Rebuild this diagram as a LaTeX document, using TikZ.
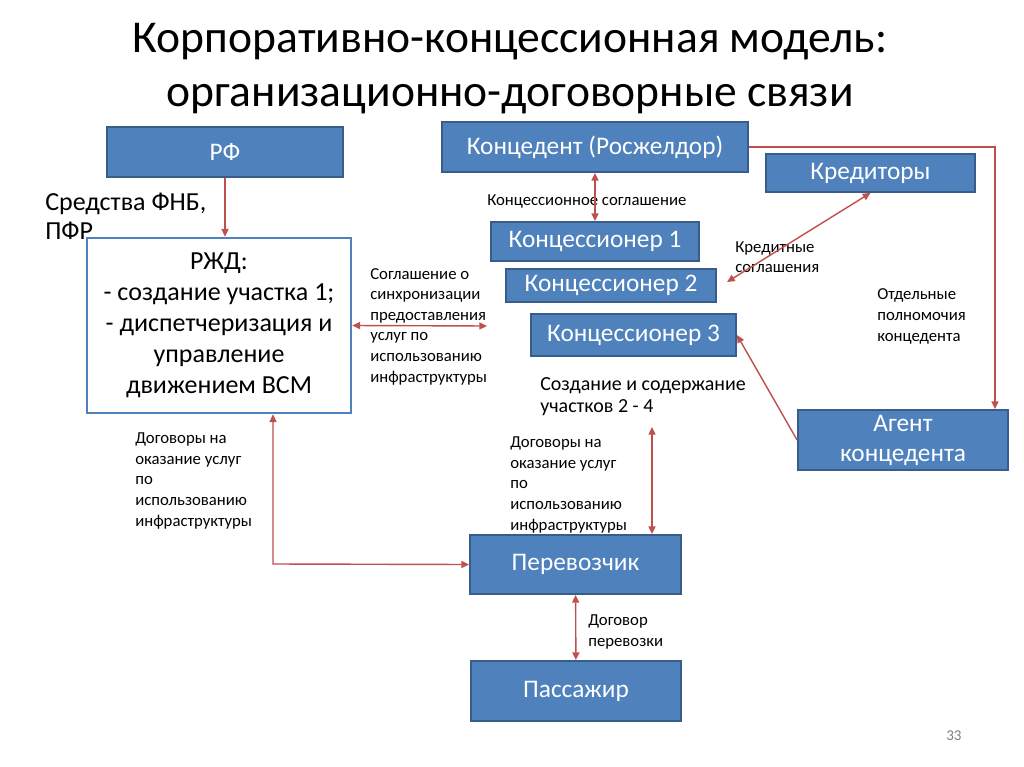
\documentclass[tikz,border=0pt]{standalone}
\usepackage{fontspec}
\setmainfont{Carlito}
\usetikzlibrary{arrows.meta}
\definecolor{boxblue}{RGB}{79,129,189}
\definecolor{boxedge}{RGB}{56,93,138}
\definecolor{linkred}{RGB}{190,80,77}
\tikzset{
  bluebox/.style={draw=boxedge, fill=boxblue, line width=1.3pt, text=white, align=center,
    inner sep=0pt, font=\fontsize{18}{21.3}\selectfont},
  whitebox/.style={draw=boxblue, line width=1.8pt, align=center, inner sep=0pt,
    font=\fontsize{18.5}{22}\selectfont},
  note/.style={anchor=base west, inner sep=0pt, align=left, font=\fontsize{11.9}{14.6}\selectfont},
  bignote/.style={note, font=\fontsize{18.5}{21.3}\selectfont},
  link/.style={linkred, line width=1pt, -{Triangle[length=5.5pt,width=5pt]}},
  twolink/.style={link, {Triangle[length=5.5pt,width=5pt]}-{Triangle[length=5.5pt,width=5pt]}},
}
\begin{document}
\begin{tikzpicture}[x=0.025cm, y=-0.025cm]
\useasboundingbox (0,0) rectangle (1024,767);
% title (base = last line)
\node[anchor=base, inner sep=0pt, align=center, font=\fontsize{32.4}{39}\selectfont] (title) at (510,107)
  {Корпоративно-концессионная модель:\\организационно-договорные связи};
% boxes
\node[bluebox, minimum width=5.9cm, minimum height=1.25cm] (rf) at (225,152) {РФ};
\node[bluebox, minimum width=7.65cm, minimum height=1.25cm] (kd) at (595,147) {Концедент (Росжелдор)};
\node[bluebox, minimum width=5.225cm, minimum height=0.95cm] (kr) at (870.5,173) {Кредиторы};
\node[bluebox, minimum width=5.2cm, minimum height=0.975cm] (k1) at (595,241.5) {Концессионер 1};
\node[bluebox, minimum width=5.25cm, minimum height=0.825cm] (k2) at (611,285.5) {Концессионер 2};
\node[bluebox, minimum width=5.125cm, minimum height=1.05cm] (k3) at (633.5,335) {Концессионер 3};
\node[bluebox, minimum width=5.25cm, minimum height=1.5cm] (ag) at (903,440) {Агент\\концедента};
\node[bluebox, minimum width=5.275cm, minimum height=1.475cm] (per) at (575.5,564.5) {Перевозчик};
\node[bluebox, minimum width=5.25cm, minimum height=1.5cm] (pas) at (576,691) {Пассажир};
\node[whitebox, minimum width=6.6cm, minimum height=4.375cm] (rzd) at (219,325.5)
  {РЖД:\\- создание участка 1;\\- диспетчеризация и\\управление\\движением ВСМ};
% labels (base = last line)
\node[bignote] (fnb) at (45,240) {Средства ФНБ,\\ПФР};
\node[note] (ksogl) at (487,206) {Концессионное соглашение};
\node[note] (kredsogl) at (735,273) {Кредитные\\соглашения};
\node[note] (polnom) at (877,341) {Отдельные\\полномочия\\концедента};
\node[note] (sinhr) at (370,382) {Соглашение о\\синхронизации\\предоставления\\услуг по\\использованию\\инфраструктуры};
\node[note, font=\fontsize{14.2}{15.6}\selectfont] (sozd) at (540,412) {Создание и содержание\\участков 2 - 4};
\node[note] (dogleft) at (135,526) {Договоры на\\оказание услуг\\по\\использованию\\инфраструктуры};
\node[note] (dogright) at (510,530) {Договоры на\\оказание услуг\\по\\использованию\\инфраструктуры};
\node[note] (dogper) at (588,646) {Договор\\перевозки};
\node[anchor=base west, inner sep=0pt, text=gray, font=\fontsize{10.7}{12}\selectfont] (page) at (946,740) {33};
% connectors
\coordinate (kredend) at (727,282);
\coordinate (corner) at (995,147);
\coordinate (sinhrend) at (487,326);
\coordinate (bend) at (273,564);
\coordinate (dogend) at (652,427);
\draw[link] (rf.south) -- (rf.south |- rzd.north);
\draw[twolink] (kd.south) -- (k1.north);
\draw[twolink] (kr.south) -- (kredend);
\draw[link] (kd.east) -- (corner) -- (corner |- ag.north);
\draw[link] (ag.west) -- (k3.east);
\draw[twolink] (rzd.east) -- (sinhrend);
\draw[twolink] (bend |- rzd.south) -- (bend) -- (per.west);
\draw[twolink] (dogend) -- (dogend |- per.north);
\draw[twolink] (per) -- (pas);
\end{tikzpicture}
\end{document}
